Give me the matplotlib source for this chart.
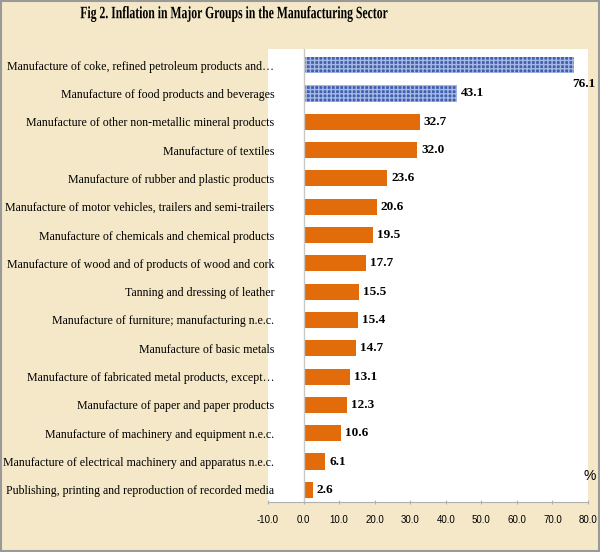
import matplotlib
matplotlib.use('Agg')
from matplotlib import pyplot as plt
from matplotlib import ticker, patches
from matplotlib.textpath import TextPath
from matplotlib.font_manager import FontProperties
from matplotlib.transforms import Affine2D

categories = [
    'Manufacture of coke, refined petroleum products and\u2026',
    'Manufacture of food products and beverages',
    'Manufacture of other non-metallic mineral products',
    'Manufacture of textiles',
    'Manufacture of rubber and plastic products',
    'Manufacture of motor vehicles, trailers and semi-trailers',
    'Manufacture of chemicals and chemical products',
    'Manufacture of wood and of products of wood and cork',
    'Tanning and dressing of leather',
    'Manufacture of furniture; manufacturing n.e.c.',
    'Manufacture of basic metals',
    'Manufacture of fabricated metal products, except\u2026',
    'Manufacture of paper and paper products',
    'Manufacture of machinery and equipment n.e.c.',
    'Manufacture of electrical machinery and apparatus n.e.c.',
    'Publishing, printing and reproduction of recorded media',
]
values = [76.1, 43.1, 32.7, 32.0, 23.6, 20.6, 19.5, 17.7, 15.5, 15.4, 14.7, 13.1, 12.3, 10.6, 6.1, 2.6]
highlight = [True, True] + [False] * 14
xticks = [-10, 0, 10, 20, 30, 40, 50, 60, 70, 80]
title = 'Fig 2. Inflation in Major Groups in the Manufacturing Sector'

serif = 'Liberation Serif'
bg = '#f4e8c8'
orange = '#e36c0a'
blue = '#3f5fae'

fig = plt.figure(figsize=(6, 5.52), dpi=100, facecolor=bg)
ax = fig.add_axes([268/600, 50/552, 320/600, 453/552])
ax.set_facecolor('white')

pos = list(range(len(categories)))
for i, (v, hl) in enumerate(zip(values, highlight)):
    if hl:
        ax.barh(i, v, height=0.57, color=blue, edgecolor='#a6b8e4', hatch='++++', linewidth=0)
    else:
        ax.barh(i, v, height=0.57, color=orange, edgecolor='none')

for i, v in enumerate(values):
    if i == 0:
        ax.annotate(f'{v:.1f}', (v, i), xytext=(-2, -19), textcoords='offset pixels',
                    ha='left', va='center', fontsize=9.5, fontweight='bold', family=serif)
    else:
        ax.annotate(f'{v:.1f}', (v, i), xytext=(4, 0), textcoords='offset pixels',
                    ha='left', va='center', fontsize=9.5, fontweight='bold', family=serif)

ax.axvline(0, color='#c8c8c8', lw=1)
ax.set_xlim(-10, 80)
ax.set_ylim(len(categories) - 0.57, -0.57)
ax.set_xticks(xticks)
ax.set_xticklabels([f'{t:.1f}' for t in xticks], family='Liberation Sans', fontsize=7)
ax.set_yticks(pos)
ax.set_yticklabels(categories, family=serif, fontsize=8.6)
ax.tick_params(axis='y', length=0, pad=-4.5)
ax.tick_params(axis='x', length=3, color='#b0b0b0', pad=8, direction='inout')
for s in ['top', 'right', 'left']:
    ax.spines[s].set_visible(False)
ax.spines['bottom'].set_color('#b0b0b0')

ax.text(80.6, 14.5, '%', ha='center', va='center', fontsize=10, family='Liberation Sans')

# title: condensed serif bold, drawn as a path squeezed horizontally
tp = TextPath((0, 0), title, size=12.5, prop=FontProperties(family=serif, weight='bold'))
ext = tp.get_extents()
tr = (Affine2D().translate(-(ext.x0 + ext.x1) / 2, -(ext.y0 + ext.y1) / 2)
      .scale(0.675 / 72 / 6, 1 / 72 / 5.52)
      .translate(234 / 600, 1 - 14 / 552)) + fig.transFigure
fig.patches.append(patches.PathPatch(tp, transform=tr, color='black', lw=0))

fig.patches.append(patches.Rectangle((0.002, 0.002), 0.996, 0.996, transform=fig.transFigure,
                                     fill=False, edgecolor='#999999', lw=1.5))

fig.savefig('out.png', dpi=100, facecolor=bg)
